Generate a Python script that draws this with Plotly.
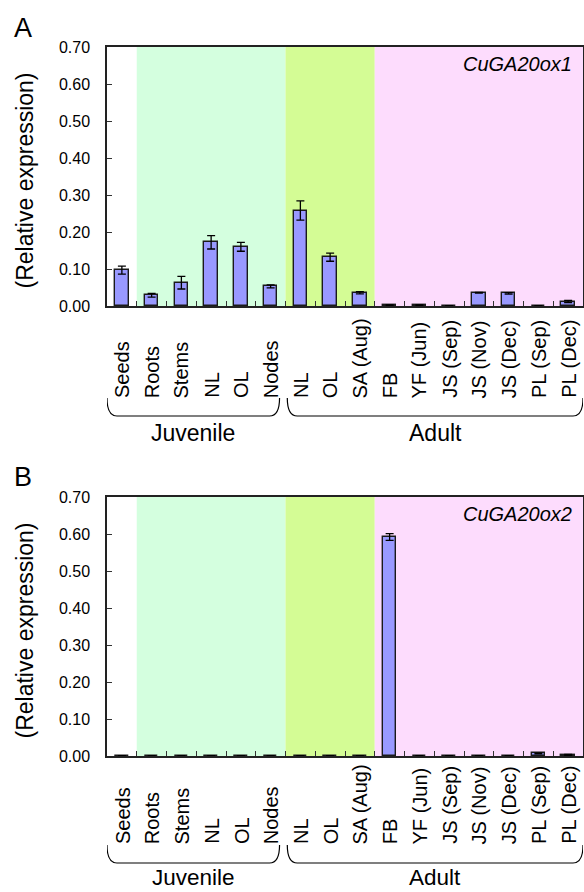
import plotly.graph_objects as go

categories = ["Seeds", "Roots", "Stems", "NL", "OL", "Nodes",
              "NL", "OL", "SA (Aug)", "FB", "YF (Jun)", "JS (Sep)",
              "JS (Nov)", "JS (Dec)", "PL (Sep)", "PL (Dec)"]
groups = ["Juvenile", "Adult"]
group_sizes = [6, 10]
y_ticks = [0.0, 0.1, 0.2, 0.3, 0.4, 0.5, 0.6, 0.7]

a_values = [0.097, 0.029, 0.063, 0.172, 0.160, 0.053, 0.258, 0.132, 0.036,
            0.002, 0.002, 0.001, 0.036, 0.034, 0.001, 0.012]
a_errors = [0.011, 0.005, 0.017, 0.018, 0.012, 0.004, 0.026, 0.011, 0.003,
            0.001, 0.001, 0.0, 0.001, 0.002, 0.0, 0.003]
b_values = [0.001, 0.001, 0.001, 0.001, 0.001, 0.001, 0.001, 0.001, 0.001,
            0.592, 0.001, 0.001, 0.001, 0.001, 0.007, 0.003]
b_errors = [0.0, 0.0, 0.0, 0.0, 0.0, 0.0, 0.0, 0.0, 0.0,
            0.009, 0.0, 0.0, 0.0, 0.0, 0.001, 0.001]
gene_names = ["CuGA20ox1", "CuGA20ox2"]
panel_letters = ["A", "B"]

# region colours: seeds (white), juvenile tissues, adult leaves, adult other
region_spans = [(-0.5, 0.5, "#FFFFFF"), (0.5, 5.5, "#D4FFDF"),
                (5.5, 8.5, "#D4FC95"), (8.5, 15.5, "#FDDCFD")]

W, H = 584, 892
FONT = "Liberation Sans, Arial, sans-serif"
xs = list(range(len(categories)))

def py(px):
    return 1 - px / H

panels = [
    dict(vals=a_values, errs=a_errors, top=47, bottom=306, lab_bot=400,
         br_top=398, br_bot=416, grp_y=433, grp_size=23, letter_y=28, gene_y=64),
    dict(vals=b_values, errs=b_errors, top=497, bottom=756, lab_bot=846,
         br_top=845, br_bot=863, grp_y=877.4, grp_size=22.5, letter_y=477, gene_y=514),
]

fig = go.Figure()
shapes = []
annotations = []
unit = 476 / 16.0  # px per category

for i, p in enumerate(panels):
    xa = "x" if i == 0 else "x2"
    ya = "y" if i == 0 else "y2"
    fig.add_trace(go.Bar(
        x=xs, y=p["vals"], xaxis=xa, yaxis=ya, width=0.45,
        marker=dict(color="#9999FF", line=dict(color="#1a1a1a", width=1.4)),
        error_y=dict(type="data", array=p["errs"], visible=True,
                     color="#000000", thickness=1.3, width=4),
        showlegend=False))
    for x0, x1, c in region_spans:
        shapes.append(dict(type="rect", xref=xa, yref=ya, x0=x0, x1=x1,
                           y0=0, y1=0.7, fillcolor=c, line=dict(width=0),
                           layer="below"))
    # category labels (bottom-aligned, rotated)
    for xi, lab in zip(xs, categories):
        annotations.append(dict(x=xi + 0.02, y=py(p["lab_bot"]), xref=xa, yref="paper",
                                text=lab, textangle=-90, showarrow=False,
                                xanchor="center", yanchor="bottom",
                                font=dict(family=FONT, size=20, color="#000")))
    # braces
    start = -0.5
    for g, n in zip(groups, group_sizes):
        end = start + n
        l = start + (0.0 if g == groups[0] else 0.06)
        r = end - (0.2 if g == groups[0] else 0.0)
        c = 10 / unit
        yt, yb = py(p["br_top"]), py(p["br_bot"])
        path = (f"M {l},{yt} Q {l},{yb} {l + c},{yb} L {r - c},{yb} "
                f"Q {r},{yb} {r},{yt}")
        shapes.append(dict(type="path", xref=xa, yref="paper", path=path,
                           line=dict(color="#000", width=1.2)))
        annotations.append(dict(x=(l + r) / 2, y=py(p["grp_y"]), xref=xa, yref="paper",
                                text=g, showarrow=False, xanchor="center",
                                yanchor="middle",
                                font=dict(family=FONT, size=p["grp_size"], color="#000")))
        start = end
    # panel letter
    annotations.append(dict(x=(23 - 107) / 476, y=py(p["letter_y"]), xref="paper",
                            yref="paper", text=panel_letters[i], showarrow=False,
                            xanchor="center", yanchor="middle",
                            font=dict(family=FONT, size=27, color="#000")))
    # gene name
    annotations.append(dict(x=(574 - 107) / 476, y=py(p["gene_y"]), xref="paper",
                            yref="paper", text=f"<i>{gene_names[i]}</i>",
                            showarrow=False, xanchor="right", yanchor="middle",
                            font=dict(family=FONT, size=20, color="#000")))
    # y title
    annotations.append(dict(x=(24 - 107) / 476, y=py((p["top"] + p["bottom"]) / 2 + 4),
                            xref="paper", yref="paper", text="(Relative expression)",
                            textangle=-90, showarrow=False, xanchor="center",
                            yanchor="middle",
                            font=dict(family=FONT, size=23, color="#000")))

axis_common = dict(showline=True, linecolor="#222", linewidth=1.5, mirror=True,
                   showgrid=False, zeroline=False, automargin=False)
xaxis_cfg = dict(axis_common, range=[-0.5, 15.5], tickmode="array",
                 tickvals=[v - 0.5 for v in range(1, 16)], ticks="inside",
                 ticklen=5, tickcolor="#333", showticklabels=False)
yaxis_cfg = dict(axis_common, range=[0, 0.7], tickmode="array", tickvals=y_ticks,
                 ticktext=[f"{v:.2f}" for v in y_ticks], ticks="inside", ticklen=5,
                 tickcolor="#333", ticklabelstandoff=12,
                 tickfont=dict(family=FONT, size=16, color="#000"))

fig.update_layout(
    width=W, height=H, margin=dict(l=107, r=1, t=0, b=0, pad=0, autoexpand=False),
    paper_bgcolor="white", plot_bgcolor="white", bargap=0,
    shapes=shapes, annotations=annotations,
    xaxis=dict(xaxis_cfg, domain=[0, 1], anchor="y"),
    yaxis=dict(yaxis_cfg, domain=[py(panels[0]["bottom"]), py(panels[0]["top"])], anchor="x"),
    xaxis2=dict(xaxis_cfg, domain=[0, 1], anchor="y2"),
    yaxis2=dict(yaxis_cfg, domain=[py(panels[1]["bottom"]), py(panels[1]["top"])], anchor="x2"),
)

fig.write_html("out.html", config={"displayModeBar": False},
               post_script="document.body.style.margin='0';document.body.style.overflow='hidden';")
